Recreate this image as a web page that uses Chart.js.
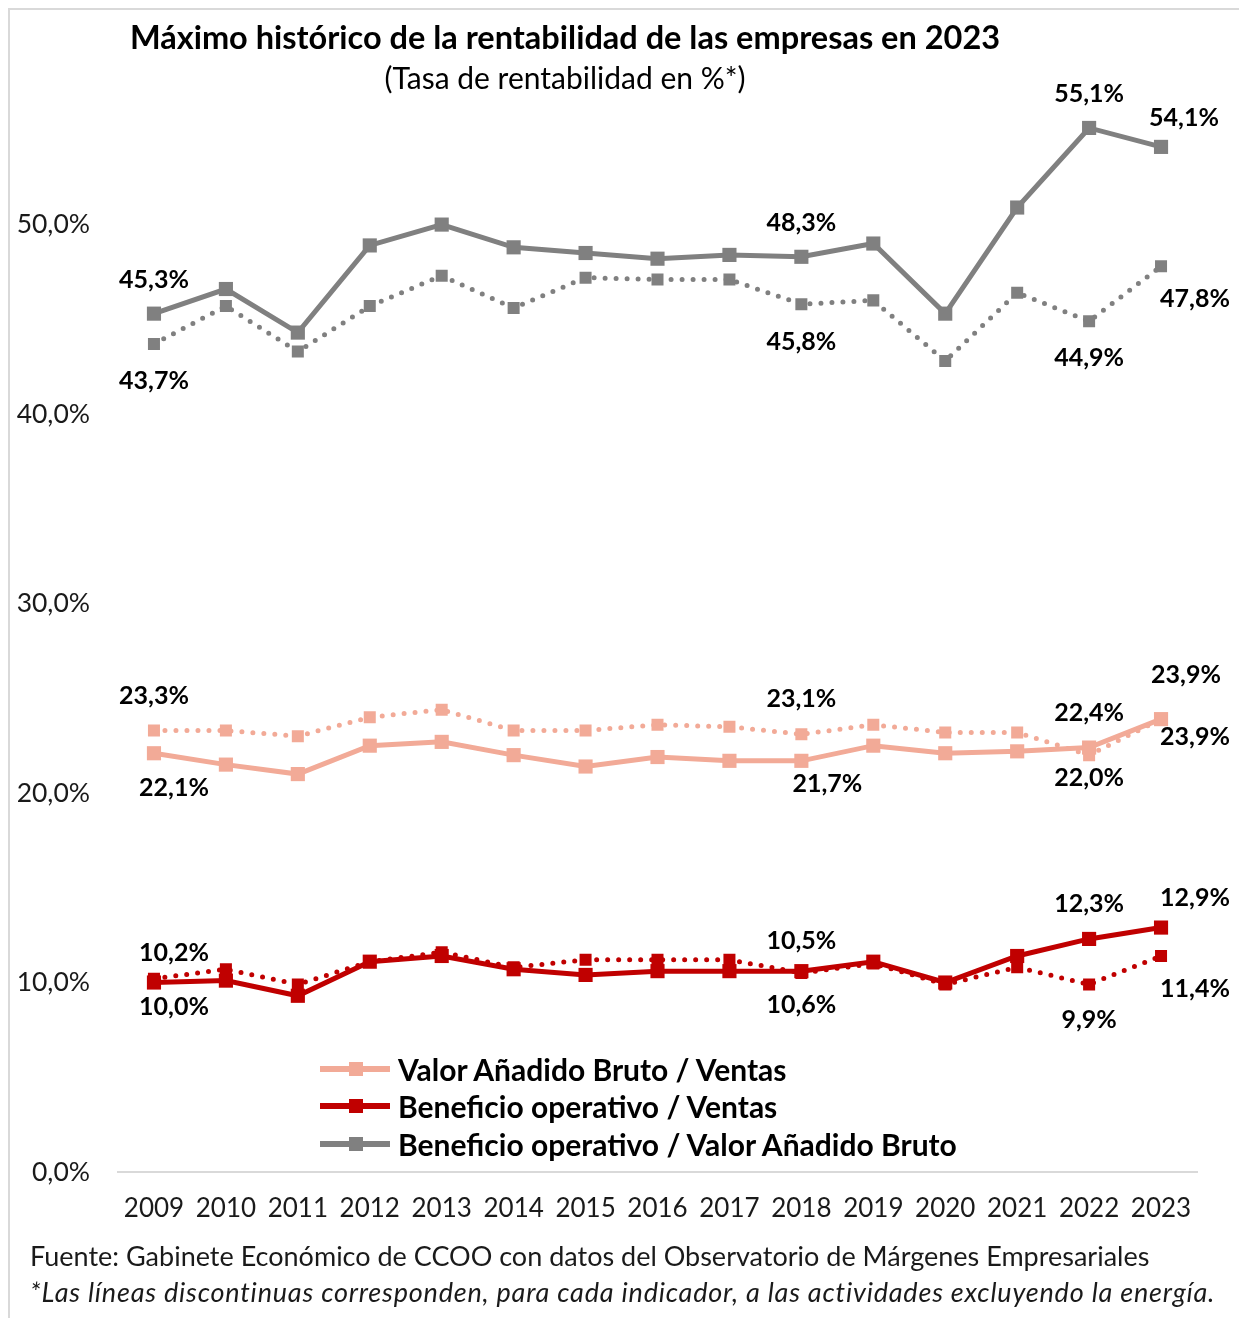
<!DOCTYPE html>
<html>
<head>
<meta charset="utf-8">
<script src="https://cdn.jsdelivr.net/npm/chart.js@4.4.1/dist/chart.umd.min.js"></script>
<style>
  body { margin: 0; background: #fff; }
  .wrap { position: relative; width: 1239px; height: 1318px; overflow: hidden; font-family: Lato, "Open Sans", sans-serif; color: #000; }
  .frame { position: absolute; left: 8px; top: 8px; width: 1240px; height: 1320px; border-top: 2px solid #d9d9d9; border-left: 2px solid #d9d9d9; }
  canvas { position: absolute; left: 0; top: 0; }
  .titulo { position: absolute; left: 0; width: 1130px; top: 17px; text-align: center; font-weight: bold; font-size: 32.5px; line-height: 39px; }
  .subtitulo { position: absolute; left: 0; width: 1130px; top: 59px; text-align: center; font-size: 30px; line-height: 36px; }
  .nota { position: absolute; left: 30px; font-size: 27px; line-height: 32px; color: #1a1a1a; white-space: nowrap; }
  .leyenda { position: absolute; left: 320px; top: 1050px; }
  .leyenda div { height: 37.5px; display: flex; align-items: center; font-weight: bold; font-size: 30px; }
  .sw { position: relative; width: 70px; height: 6px; margin-right: 8px; }
  .sw i { position: absolute; left: 29px; top: -4px; width: 14px; height: 14px; }
</style>
</head>
<body>
<div class="wrap">
  <div class="frame"></div>
  <canvas id="grafica" width="1239" height="1318"></canvas>
  <div class="titulo">Máximo histórico de la rentabilidad de las empresas en 2023</div>
  <div class="subtitulo">(Tasa de rentabilidad en %*)</div>
  <div class="leyenda" id="leyenda"></div>
  <div class="nota" style="top:1240px">Fuente: Gabinete Económico de CCOO con datos del Observatorio de Márgenes Empresariales</div>
  <div class="nota" style="top:1276px;font-style:italic;letter-spacing:0.8px">*Las líneas discontinuas corresponden, para cada indicador, a las actividades excluyendo la energía.</div>
</div>
<script>
let anios = ['2009','2010','2011','2012','2013','2014','2015','2016','2017','2018','2019','2020','2021','2022','2023'];

// Valor Añadido Bruto / Ventas
let vabVentas     = [22.1, 21.5, 21.0, 22.5, 22.7, 22.0, 21.4, 21.9, 21.7, 21.7, 22.5, 22.1, 22.2, 22.4, 23.9];
let vabVentasSinE = [23.3, 23.3, 23.0, 24.0, 24.4, 23.3, 23.3, 23.6, 23.5, 23.1, 23.6, 23.2, 23.2, 22.0, 23.9];
// Beneficio operativo / Ventas
let boVentas      = [10.0, 10.1, 9.3, 11.1, 11.4, 10.7, 10.4, 10.6, 10.6, 10.6, 11.1, 10.0, 11.4, 12.3, 12.9];
let boVentasSinE  = [10.2, 10.7, 9.9, 11.1, 11.6, 10.8, 11.2, 11.2, 11.2, 10.5, 11.0, 9.9, 10.8, 9.9, 11.4];
// Beneficio operativo / Valor Añadido Bruto
let boVab         = [45.3, 46.6, 44.3, 48.9, 50.0, 48.8, 48.5, 48.2, 48.4, 48.3, 49.0, 45.3, 50.9, 55.1, 54.1];
let boVabSinE     = [43.7, 45.7, 43.3, 45.7, 47.3, 45.6, 47.2, 47.1, 47.1, 45.8, 46.0, 42.8, 46.4, 44.9, 47.8];

let yTicks = [0, 10, 20, 30, 40, 50];

let gris = '#808080', rosa = '#F2AA97', rojo = '#C00000';

// años con etiqueta y desplazamiento [dx, dy] de cada etiqueta
let etiquetas = {
  boVab:         {idx: [0, 9, 13, 14], off: [[0,-34],[0,-34],[0,-34],[23,-29]]},
  boVabSinE:     {idx: [0, 9, 13, 14], off: [[0,37],[0,38],[0,37],[34,33]]},
  vabVentas:     {idx: [0, 9, 13, 14], off: [[20,35],[26,23],[0,-35],[34,18]]},
  vabVentasSinE: {idx: [0, 9, 13, 14], off: [[0,-35],[0,-35],[0,23],[25,-44]]},
  boVentas:      {idx: [0, 9, 13, 14], off: [[20,24],[0,34],[0,-35],[34,-30]]},
  boVentasSinE:  {idx: [0, 9, 13, 14], off: [[20,-26],[0,-32],[0,36],[34,33]]}
};

function fmt(v){ return v.toFixed(1).replace('.', ',') + '%'; }

function serie(id, datos, color, punteada){
  let ds = {
    id: id,
    data: datos,
    borderColor: color,
    backgroundColor: color,
    borderWidth: 5,
    pointStyle: 'rect',
    pointRadius: punteada ? 8.5 : 10,
    pointBorderWidth: 0,
    pointBackgroundColor: color,
    tension: 0
  };
  if(punteada){
    ds.borderDash = [0, 11];
    ds.borderCapStyle = 'round';
  }
  return ds;
}

let pluginEtiquetas = {
  id: 'etiquetas',
  afterDatasetsDraw(chart){
    let ctx = chart.ctx;
    ctx.save();
    ctx.font = 'bold 25px Lato, sans-serif';
    ctx.fillStyle = '#000';
    ctx.textAlign = 'center';
    ctx.textBaseline = 'middle';
    chart.data.datasets.forEach((ds, i) => {
      let cfg = etiquetas[ds.id];
      let meta = chart.getDatasetMeta(i);
      cfg.idx.forEach((k, j) => {
        let p = meta.data[k];
        ctx.fillText(fmt(ds.data[k]), p.x + cfg.off[j][0], p.y + cfg.off[j][1]);
      });
    });
    ctx.restore();
  }
};

let grafica = document.getElementById('grafica').getContext('2d');
let chart = new Chart(grafica, {
  type: 'line',
  data: {
    labels: anios,
    datasets: [
      serie('vabVentasSinE', vabVentasSinE, rosa, true),
      serie('vabVentas', vabVentas, rosa, false),
      serie('boVentasSinE', boVentasSinE, rojo, true),
      serie('boVentas', boVentas, rojo, false),
      serie('boVabSinE', boVabSinE, gris, true),
      serie('boVab', boVab, gris, false)
    ]
  },
  options: {
    responsive: false,
    animation: false,
    layout: { padding: { top: 73, right: 42, bottom: 86, left: 0 } },
    plugins: { legend: { display: false }, tooltip: { enabled: false }, title: { display: false } },
    scales: {
      x: {
        offset: true,
        grid: { display: false, drawTicks: false },
        border: { display: true, color: '#d9d9d9', width: 2 },
        ticks: { color: '#1a1a1a', font: { family: 'Lato', size: 26 }, padding: 21, maxRotation: 0, autoSkip: false },
        afterFit(scale){ scale.height = 60; }
      },
      y: {
        min: 0,
        max: 58,
        grid: { display: false, drawTicks: false },
        border: { display: false },
        afterBuildTicks(scale){ scale.ticks = yTicks.map(v => ({value: v})); },
        ticks: { color: '#1a1a1a', font: { family: 'Lato', size: 26.5 }, padding: 28, callback: v => fmt(v) },
        afterFit(scale){ scale.width = 118; }
      }
    }
  },
  plugins: [pluginEtiquetas]
});

// leyenda
let leyenda = document.getElementById('leyenda');
[['Valor Añadido Bruto / Ventas', rosa], ['Beneficio operativo / Ventas', rojo], ['Beneficio operativo / Valor Añadido Bruto', gris]].forEach(([txt, c]) => {
  leyenda.innerHTML += `<div><span class="sw" style="background:${c}"><i style="background:${c}"></i></span>${txt}</div>`;
});
</script>
</body>
</html>
